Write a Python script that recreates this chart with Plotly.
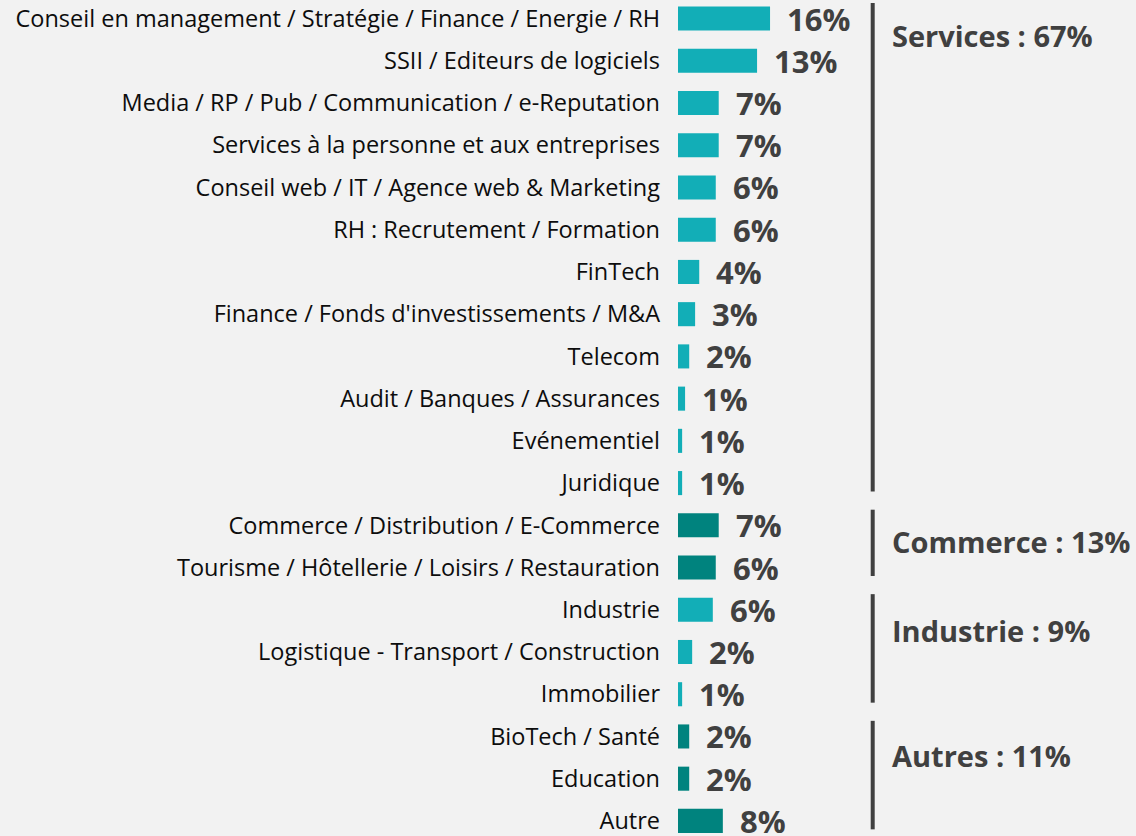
import plotly.graph_objects as go

categories = [
    "Conseil en management / Stratégie / Finance / Energie / RH",
    "SSII / Editeurs de logiciels",
    "Media / RP / Pub / Communication / e-Reputation",
    "Services à la personne et aux entreprises",
    "Conseil web / IT / Agence web & Marketing",
    "RH : Recrutement / Formation",
    "FinTech",
    "Finance / Fonds d'investissements / M&A",
    "Telecom",
    "Audit / Banques / Assurances",
    "Evénementiel",
    "Juridique",
    "Commerce / Distribution / E-Commerce",
    "Tourisme / Hôtellerie / Loisirs / Restauration",
    "Industrie",
    "Logistique - Transport / Construction",
    "Immobilier",
    "BioTech / Santé",
    "Education",
    "Autre",
]
values = [15.6, 13.4, 6.9, 6.9, 6.4, 6.4, 3.6, 2.9, 1.9, 1.2, 0.7, 0.7,
          6.9, 6.4, 5.9, 2.4, 0.7, 1.9, 1.9, 7.6]
shade = ["light"] * 12 + ["dark"] * 2 + ["light"] * 3 + ["dark"] * 3

groups = ["Services : 67%", "Commerce : 13%", "Industrie : 9%", "Autres : 11%"]
group_first = [0, 12, 14, 17]
group_last = [11, 13, 16, 19]
group_label_offset = [0.39, 0.39, 0.49, 0.44]

LIGHT = "#12AEB7"
DARK = "#00837E"
BG = "#F2F2F2"
TXT = "#404040"

colors = [LIGHT if s == "light" else DARK for s in shade]

fig = go.Figure()
fig.add_trace(go.Bar(
    y=categories, x=values, orientation="h",
    marker=dict(color=colors, line=dict(width=0)),
    width=0.57, hoverinfo="skip",
))

for c, v in zip(categories, values):
    fig.add_annotation(
        x=v, y=c, xref="x", yref="y", text=f"<b>{round(v)}%</b>",
        showarrow=False, xanchor="left", yanchor="middle", xshift=15,
        font=dict(family="Open Sans", size=31, color=TXT),
    )

LINE_X = 33.0
for g, f, l, off in zip(groups, group_first, group_last, group_label_offset):
    fig.add_shape(type="line", xref="x", yref="y",
                  x0=LINE_X, x1=LINE_X, y0=f - 0.37, y1=l + 0.2,
                  line=dict(color=TXT, width=4))
    fig.add_annotation(
        x=LINE_X, y=f + off, xref="x", yref="y", text=f"<b>{g}</b>",
        showarrow=False, xanchor="left", yanchor="middle", xshift=17,
        font=dict(family="Open Sans", size=29, color=TXT),
    )

fig.update_layout(
    width=1136, height=836,
    margin=dict(l=678, r=0, t=0, b=0),
    paper_bgcolor=BG, plot_bgcolor=BG,
    showlegend=False,
    xaxis=dict(range=[0, 458 / 5.9], visible=False, fixedrange=True),
    yaxis=dict(type="category", categoryorder="array", categoryarray=categories,
               range=[19.31, -0.44], showgrid=False, zeroline=False,
               showline=False, ticks="", ticklabelstandoff=17, fixedrange=True,
               tickfont=dict(family="Open Sans", size=23.5, color="#0D0D0D")),
)

fig.write_html(
    "out.html",
    config={"displayModeBar": False},
    post_script="document.body.style.margin='0';"
                "document.body.style.overflow='hidden';"
                "document.body.style.background='#F2F2F2';",
)
